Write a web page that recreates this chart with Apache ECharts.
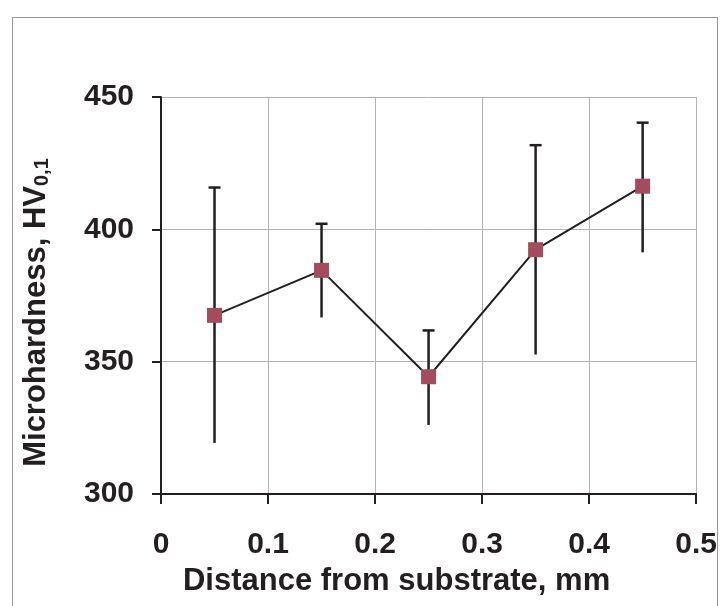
<!DOCTYPE html>
<html>
<head>
<meta charset="utf-8">
<script src="https://cdn.jsdelivr.net/npm/echarts@6/dist/echarts.min.js"></script>
<style>
  html, body { margin: 0; padding: 0; background: #fff; }
  #frame { position: absolute; left: 12px; top: 17px; width: 704px; height: 600px; border: 1px solid #999; border-bottom: none; }
  #chart { width: 720px; height: 606px; }
</style>
</head>
<body>
<div id="frame"></div>
<div id="chart"></div>
<script>
// distance from substrate, mm
const distance = [0.05, 0.15, 0.25, 0.35, 0.45];
// mean microhardness, HV0.1
const hardness = [367.5, 384.5, 344.3, 392.3, 416.3];
// error bar ends
const errLow = [319.3, 366.7, 326.1, 352.7, 391.3];
const errHigh = [415.8, 402.1, 361.8, 431.8, 440.3];
const xTicks = [0, 0.1, 0.2, 0.3, 0.4, 0.5];
const yTicks = [300, 350, 400, 450];

const chart = echarts.init(document.getElementById('chart'), null, { renderer: 'canvas' });

const font = 'Liberation Sans, Arial, sans-serif';
const ink = '#231f20';

chart.setOption({
  backgroundColor: 'transparent',
  animation: false,
  grid: { left: 161, top: 97, width: 536, height: 397, containLabel: false },
  xAxis: {
    type: 'value',
    min: xTicks[0],
    max: xTicks[xTicks.length - 1],
    interval: 0.1,
    name: 'Distance from substrate, mm',
    nameLocation: 'middle',
    nameGap: 72,
    nameTextStyle: { fontFamily: font, fontWeight: 'bold', fontSize: 31, color: ink, padding: [0, 64, 0, 0] },
    axisLine: { lineStyle: { color: ink, width: 2 } },
    axisTick: { show: true, inside: false, length: 10, lineStyle: { color: ink, width: 2 } },
    axisLabel: { fontFamily: font, fontWeight: 'bold', fontSize: 30, color: ink, margin: 36,
      formatter: v => String(Math.round(v * 10) / 10) },
    splitLine: { show: true, lineStyle: { color: '#b3b3b3', width: 1 } }
  },
  yAxis: {
    type: 'value',
    min: yTicks[0],
    max: yTicks[yTicks.length - 1],
    interval: 50,
    name: '{a|Microhardness, HV}{s|0,1}',
    nameLocation: 'middle',
    nameGap: 109,
    nameRotate: 90,
    nameTextStyle: {
      fontFamily: font, fontWeight: 'bold', fontSize: 31, color: ink,
      padding: [0, 34, 0, 0],
      rich: {
        a: { fontFamily: font, fontWeight: 'bold', fontSize: 31, color: ink },
        s: { fontFamily: font, fontWeight: 'bold', fontSize: 20, color: ink, padding: [0, 0, -12, 0] }
      }
    },
    axisLine: { show: true, lineStyle: { color: ink, width: 2 } },
    axisTick: { show: true, inside: false, length: 9, lineStyle: { color: ink, width: 2 } },
    axisLabel: { fontFamily: font, fontWeight: 'bold', fontSize: 30, color: ink, margin: 27 },
    splitLine: { show: true, lineStyle: { color: '#b3b3b3', width: 1 } }
  },
  series: [
    {
      type: 'custom',
      z: 3,
      data: distance.map((d, i) => [d, errLow[i], errHigh[i]]),
      renderItem: function (params, api) {
        const lo = api.coord([api.value(0), api.value(1)]);
        const hi = api.coord([api.value(0), api.value(2)]);
        const style = { stroke: ink, lineWidth: 2.5 };
        return {
          type: 'group',
          children: [
            { type: 'line', shape: { x1: lo[0], y1: lo[1], x2: hi[0], y2: hi[1] }, style: style },
            { type: 'line', shape: { x1: hi[0] - 6, y1: hi[1], x2: hi[0] + 6, y2: hi[1] }, style: style }
          ]
        };
      }
    },
    {
      type: 'line',
      z: 4,
      data: distance.map((d, i) => [d, hardness[i]]),
      symbol: 'rect',
      symbolSize: 15,
      lineStyle: { color: ink, width: 2 },
      itemStyle: { color: '#a44c5b', borderWidth: 0 }
    }
  ]
});
</script>
</body>
</html>
